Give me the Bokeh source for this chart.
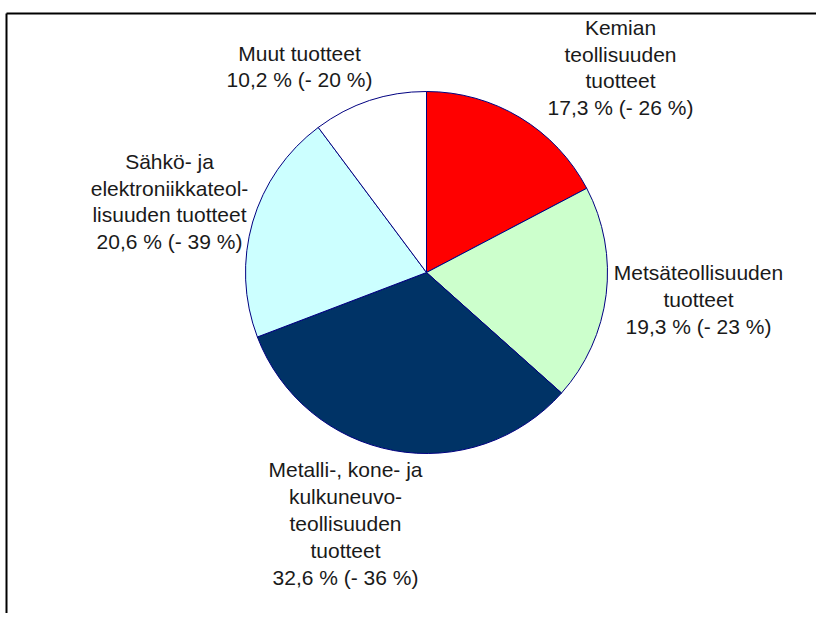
import numpy as np
from bokeh.plotting import figure
from bokeh.models import Range1d, ColumnDataSource
from bokeh.core.properties import value
from bokeh.embed import file_html
from bokeh.resources import INLINE

# ---- data ----
categories = [
    "Kemian\nteollisuuden\ntuotteet",
    "Metsäteollisuuden\ntuotteet",
    "Metalli-, kone- ja\nkulkuneuvo-\nteollisuuden\ntuotteet",
    "Sähkö- ja\nelektroniikkateol-\nlisuuden tuotteet",
    "Muut tuotteet",
]
shares = [17.3, 19.3, 32.6, 20.6, 10.2]
changes = [26, 23, 36, 39, 20]

# ---- styling / layout ----
colors = ["#FF0000", "#CCFFCC", "#003366", "#CCFFFF", "#FFFFFF"]
label_x = [620, 698, 345, 169, 299]     # page px
label_y = [67, 299, 523, 201, 66]       # page px (top-down)
W, H = 816, 613
cx, cy, r = 426, 272, 181

def py(y):
    return H - y

p = figure(width=W, height=H, output_backend="svg", toolbar_location=None,
           x_range=Range1d(0, W), y_range=Range1d(0, H),
           min_border=0, outline_line_color=None,
           background_fill_color="white", border_fill_color="white")
p.axis.visible = False
p.grid.visible = False

vals = np.array(shares, dtype=float)
frac = vals / vals.sum()
cum = np.concatenate([[0.0], np.cumsum(frac)])
start = np.deg2rad(90 - cum[:-1] * 360)
end = np.deg2rad(90 - cum[1:] * 360)

src = ColumnDataSource(dict(
    x=[cx] * len(vals), y=[py(cy)] * len(vals),
    start=start, end=end, color=colors))
p.wedge(x="x", y="y", radius=r, start_angle="start", end_angle="end",
        direction="clock", fill_color="color", line_color="#000080",
        line_width=1, source=src)

texts = []
for name, s, c in zip(categories, shares, changes):
    texts.append(f"{name}\n{s:.1f} % (- {c} %)".replace(".", ","))

lsrc = ColumnDataSource(dict(x=label_x, y=[py(v) for v in label_y], t=texts))
p.text(x="x", y="y", text="t", source=lsrc, text_align="center",
       text_baseline="middle", text_font=value("Liberation Sans"),
       text_font_size="21px", text_color="#1a1a1a", text_line_height=1.17)

# frame (top and left border lines)
p.segment(x0=[6, 6], y0=[py(13), py(13)], x1=[W, 6], y1=[py(13), 0],
          line_color="black", line_width=2)

open("out.html", "w").write(file_html(p, INLINE))
